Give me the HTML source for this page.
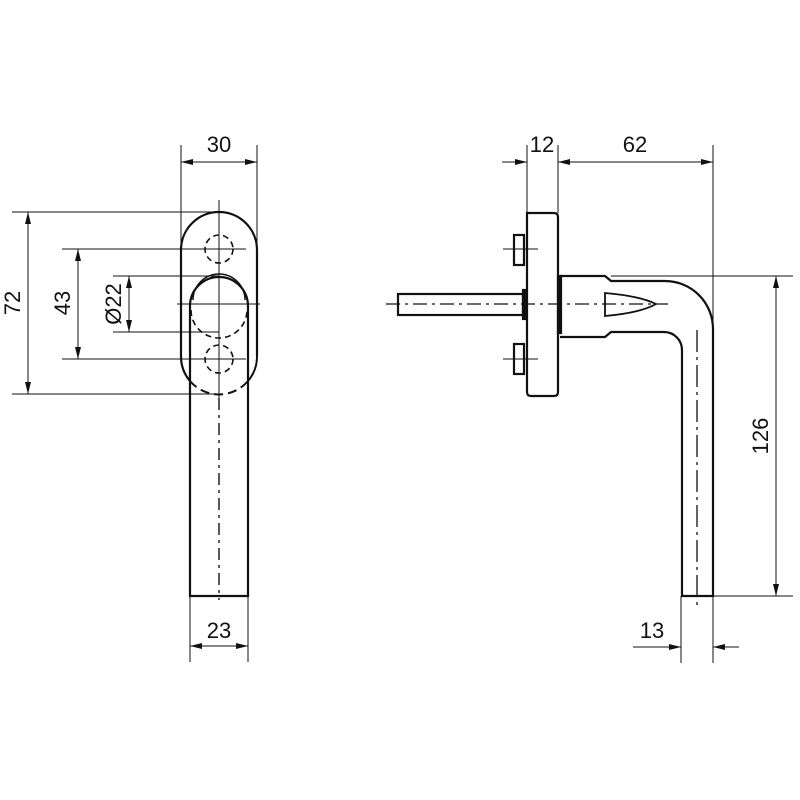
<!DOCTYPE html>
<html><head><meta charset="utf-8"><style>html,body{margin:0;padding:0;background:#fff}svg{display:block}</style></head>
<body>
<svg width="800" height="800" viewBox="0 0 800 800" xmlns="http://www.w3.org/2000/svg">
<defs>
<marker id="a" viewBox="0 0 12 6" refX="12" refY="3" markerWidth="12" markerHeight="6" orient="auto-start-reverse" markerUnits="userSpaceOnUse"><path d="M0,0 L12,3 L0,6 z" fill="#111"/></marker>
</defs>
<g fill="none" stroke="#111" font-family="Liberation Sans, sans-serif">
<!-- LEFT VIEW -->
<g stroke-width="2.2">
<path d="M181,250 A38,38 0 0 1 257,250 L257,356"/>
<path d="M181,250 L181,356 A38,38 0 0 0 190,381"/>
<path d="M190,596 L190,306 A29,29 0 0 1 248,306 L248,596 Z"/>
<path d="M193,300 A26,26 0 0 1 245,300" stroke-width="1.5"/>
</g>
<path d="M190,381 A38,38 0 0 0 248,381" stroke-width="2" stroke-dasharray="9,5"/>
<path d="M257,356 A38,38 0 0 1 248,381" stroke-width="2"/>
<g stroke-width="1.6" stroke-dasharray="6,4">
<circle cx="219" cy="249" r="14"/>
<circle cx="219" cy="359" r="14"/>
<path d="M191,310 A28,28 0 0 0 247,310"/>
</g>
<g stroke-width="1">
<line x1="219" y1="200" x2="219" y2="398"/>
<line x1="219" y1="398" x2="219" y2="600" stroke-dasharray="12,5,3,5" stroke-width="1.4"/>
<line x1="177" y1="304" x2="260" y2="304"/>
<line x1="62" y1="249" x2="246" y2="249"/>
<line x1="62" y1="359" x2="246" y2="359"/>
<line x1="113" y1="276" x2="219" y2="276"/>
<line x1="113" y1="332" x2="219" y2="332"/>
<line x1="12" y1="212" x2="219" y2="212"/>
<line x1="12" y1="394" x2="219" y2="394"/>
<line x1="181" y1="145" x2="181" y2="250"/>
<line x1="257" y1="145" x2="257" y2="250"/>
<line x1="190" y1="596" x2="190" y2="662"/>
<line x1="248" y1="596" x2="248" y2="662"/>
<line x1="181" y1="162" x2="257" y2="162" marker-start="url(#a)" marker-end="url(#a)"/>
<line x1="28" y1="212" x2="28" y2="394" marker-start="url(#a)" marker-end="url(#a)"/>
<line x1="78" y1="249" x2="78" y2="359" marker-start="url(#a)" marker-end="url(#a)"/>
<line x1="129" y1="276" x2="129" y2="332" marker-start="url(#a)" marker-end="url(#a)"/>
<line x1="190" y1="646" x2="248" y2="646" marker-start="url(#a)" marker-end="url(#a)"/>
</g>
<!-- RIGHT VIEW -->
<g stroke-width="2.2">
<path d="M527,213 L554,213 Q558,213 558,217 L558,392 Q558,396 554,396 L531,396 Q527,396 527,392 Z"/>
<rect x="514" y="235" width="10" height="30"/>
<rect x="514" y="344" width="10" height="30"/>
<rect x="398" y="294" width="125" height="21"/>
<rect x="523" y="290" width="3" height="29" fill="#111"/>
<rect x="558" y="276" width="3" height="57" fill="#111"/>
<path d="M560,276 L605,276 L611,281 L665,281 A48,48 0 0 1 713,329 L713,596 L682,596 L682,350 A18,18 0 0 0 664,332 L611,332 L605,337 L560,337"/>
<path d="M605,293 Q640,296 656,304 Q640,313 605,316 Z" stroke-width="1.8"/>
</g>
<g stroke-width="1">
<line x1="386" y1="304" x2="668" y2="304" stroke-dasharray="14,5,3,5" stroke-width="1.3"/>
<line x1="697" y1="330" x2="697" y2="610" stroke-dasharray="22,5,3,5" stroke-width="1.3"/>
<line x1="503" y1="249" x2="538" y2="249"/>
<line x1="503" y1="359" x2="538" y2="359"/>
<line x1="527" y1="145" x2="527" y2="213"/>
<line x1="558" y1="145" x2="558" y2="213"/>
<line x1="713" y1="145" x2="713" y2="330"/>
<line x1="502" y1="162" x2="527" y2="162" marker-end="url(#a)"/>
<line x1="558" y1="162" x2="713" y2="162" marker-start="url(#a)" marker-end="url(#a)"/>
<line x1="611" y1="276" x2="793" y2="276"/>
<line x1="713" y1="596" x2="793" y2="596"/>
<line x1="776" y1="276" x2="776" y2="596" marker-start="url(#a)" marker-end="url(#a)"/>
<line x1="681" y1="596" x2="681" y2="663"/>
<line x1="713" y1="596" x2="713" y2="663"/>
<line x1="633" y1="647" x2="681" y2="647" marker-end="url(#a)"/>
<line x1="739" y1="647" x2="713" y2="647" marker-end="url(#a)"/>
</g>
</g>
<g fill="#111" font-family="Liberation Sans, sans-serif" font-size="22">
<text x="219" y="152" text-anchor="middle">30</text>
<text x="219" y="638" text-anchor="middle">23</text>
<text x="542" y="152" text-anchor="middle">12</text>
<text x="635" y="152" text-anchor="middle">62</text>
<text x="652" y="638" text-anchor="middle">13</text>
<text transform="translate(20,303) rotate(-90)" text-anchor="middle">72</text>
<text transform="translate(70,303) rotate(-90)" text-anchor="middle">43</text>
<text transform="translate(121,304) rotate(-90)" text-anchor="middle">Ø22</text>
<text transform="translate(768,436) rotate(-90)" text-anchor="middle">126</text>
</g>
</svg>
</body></html>
